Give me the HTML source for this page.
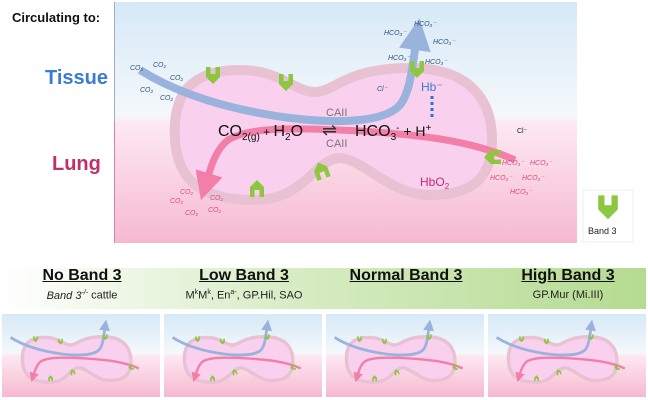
<!DOCTYPE html>
<html><head><meta charset="utf-8"><style>
body{margin:0;background:#fff;width:648px;height:400px;overflow:hidden;font-family:"Liberation Sans",sans-serif;position:relative}
.t{position:absolute;text-align:center;width:160px}
.h{font-weight:bold;font-size:16px;text-decoration:underline;color:#111;top:267px}
.s{font-size:11px;color:#222;top:289px}
</style></head><body>
<svg width="648" height="400" style="position:absolute;left:0;top:0" font-family="Liberation Sans, sans-serif">
<defs>
<linearGradient id="bg" x1="0" y1="0" x2="0" y2="1">
<stop offset="0" stop-color="#d6e9f7"/><stop offset="0.47" stop-color="#f4f8fb"/><stop offset="0.5" stop-color="#fde9f2"/><stop offset="1" stop-color="#f6b9cf"/></linearGradient>
<linearGradient id="hg" x1="0" y1="0" x2="1" y2="0">
<stop offset="0" stop-color="#ffffff"/><stop offset="0.45" stop-color="#d7ecc4"/><stop offset="1" stop-color="#b5db91"/></linearGradient>
<path id="b3" d="M-7,-9 h4.5 v7 h5 v-7 h4.5 v10 l-7,7 l-7,-7 z" fill="#8dc63f"/>
<marker id="ab" markerWidth="4" markerHeight="4" refX="1" refY="2" orient="auto"><path d="M0,0 L4,2 L0,4 z" fill="#9ab3dc"/></marker>
<marker id="ap" markerWidth="4" markerHeight="4" refX="1" refY="2" orient="auto"><path d="M0,0 L4,2 L0,4 z" fill="#f27fa8"/></marker>
<g id="cell">
<rect x="115" y="2" width="462" height="241" fill="url(#bg)"/>
<path d="M175,140 C172,95 190,70 240,70 C280,70 295,92 315,92 C335,92 345,68 410,68 C470,68 492,100 492,140 C492,180 470,195 430,195 C390,195 365,160 340,158 C315,158 305,200 255,200 C200,200 178,180 175,140 Z" fill="#f9d0ee" stroke="#e8c2d2" stroke-width="10"/>
<path d="M140,70 C180,95 230,110 290,118 C340,124 385,122 400,105 C410,92 412,70 416,42" fill="none" stroke="#9ab3dc" stroke-width="8" marker-end="url(#ab)"/>
<path d="M515,160 C470,140 420,135 360,131 C300,128 250,126 228,140 C215,150 210,170 207,180" fill="none" stroke="#f27fa8" stroke-width="7" marker-end="url(#ap)"/>
<use href="#b3" x="213" y="76"/><use href="#b3" x="286" y="83"/><use href="#b3" x="417" y="70"/>
<use href="#b3" transform="translate(257,188) rotate(180)"/><use href="#b3" transform="translate(321,170) rotate(160)"/><use href="#b3" transform="translate(492,157) rotate(90)"/>
</g>
</defs>
<use href="#cell"/>
<line x1="114.5" y1="2" x2="114.5" y2="122" stroke="#9bb0c8"/>
<line x1="114.5" y1="122" x2="114.5" y2="243" stroke="#e07ea3"/>
<text x="12" y="22" font-size="13" font-weight="bold" fill="#111">Circulating to:</text>
<text x="45" y="84" font-size="20" font-weight="bold" fill="#3a7bd5">Tissue</text>
<text x="52" y="170" font-size="20" font-weight="bold" fill="#c0306a">Lung</text>
<text x="218" y="136" font-size="16" fill="#111">CO<tspan font-size="10" dy="4">2(g)</tspan><tspan dy="-4" font-size="12"> + </tspan>H<tspan font-size="10" dy="4">2</tspan><tspan dy="-4">O</tspan></text>
<text x="322" y="136" font-size="18" fill="#333">⇌</text>
<text x="355" y="136" font-size="16" fill="#111">HCO<tspan font-size="10" dy="4">3</tspan><tspan font-size="10" dy="-9">-</tspan><tspan dy="5" font-size="14">  + H</tspan><tspan font-size="10" dy="-5">+</tspan></text>
<text x="326" y="116" font-size="11" fill="#777">CAII</text>
<text x="326" y="147" font-size="11" fill="#777">CAII</text>
<text x="421" y="91" font-size="12" fill="#3a7bd5">Hb⁻</text>
<line x1="432" y1="96" x2="432" y2="120" stroke="#2f6fd0" stroke-width="3" stroke-dasharray="3,3"/>
<text x="420" y="186" font-size="12" fill="#c0306a">HbO<tspan font-size="8" dy="3">2</tspan></text>
<g font-size="7" fill="#34507a" font-style="italic">
<text x="130" y="70">CO₂</text><text x="153" y="67">CO₂</text><text x="170" y="80">CO₂</text><text x="140" y="92">CO₂</text><text x="160" y="100">CO₂</text>
<text x="384" y="35">HCO₃⁻</text><text x="414" y="26">HCO₃⁻</text><text x="433" y="44">HCO₃⁻</text><text x="388" y="60">HCO₃⁻</text><text x="425" y="64">HCO₃⁻</text>
<text x="377" y="91">Cl⁻</text></g>
<g font-size="7" fill="#d9488a" font-style="italic">
<text x="180" y="194">CO₂</text><text x="170" y="203">CO₂</text><text x="210" y="200">CO₂</text><text x="185" y="215">CO₂</text><text x="208" y="212">CO₂</text>
<text x="502" y="165">HCO₃⁻</text><text x="530" y="165">HCO₃⁻</text><text x="490" y="180">HCO₃⁻</text><text x="522" y="180">HCO₃⁻</text><text x="510" y="194">HCO₃⁻</text></g>
<text x="517" y="133" font-size="7" fill="#222">Cl⁻</text>
<rect x="583" y="190" width="50" height="52" fill="#fff" stroke="#eee"/>
<use href="#b3" transform="translate(608,208) scale(1.4)"/>
<text x="588" y="234" font-size="9" fill="#222">Band 3</text>
<rect x="2" y="268" width="644" height="41" fill="url(#hg)"/>
<svg x="2" y="314" width="158" height="83" viewBox="115 2 462 241" preserveAspectRatio="none"><use href="#cell"/></svg>
<svg x="164" y="314" width="158" height="83" viewBox="115 2 462 241" preserveAspectRatio="none"><use href="#cell"/></svg>
<svg x="326" y="314" width="158" height="83" viewBox="115 2 462 241" preserveAspectRatio="none"><use href="#cell"/></svg>
<svg x="488" y="314" width="158" height="83" viewBox="115 2 462 241" preserveAspectRatio="none"><use href="#cell"/></svg>
</svg>
<div class="t h" style="left:2px">No Band 3</div>
<div class="t s" style="left:2px"><i>Band 3<sup style="font-size:7px">-/-</sup></i> cattle</div>
<div class="t h" style="left:164px">Low Band 3</div>
<div class="t s" style="left:164px">M<sup style="font-size:7px">k</sup>M<sup style="font-size:7px">k</sup>, En<sup style="font-size:7px">a-</sup>, GP.Hil, SAO</div>
<div class="t h" style="left:326px">Normal Band 3</div>
<div class="t h" style="left:488px">High Band 3</div>
<div class="t s" style="left:488px">GP.Mur (Mi.III)</div>
</body></html>
